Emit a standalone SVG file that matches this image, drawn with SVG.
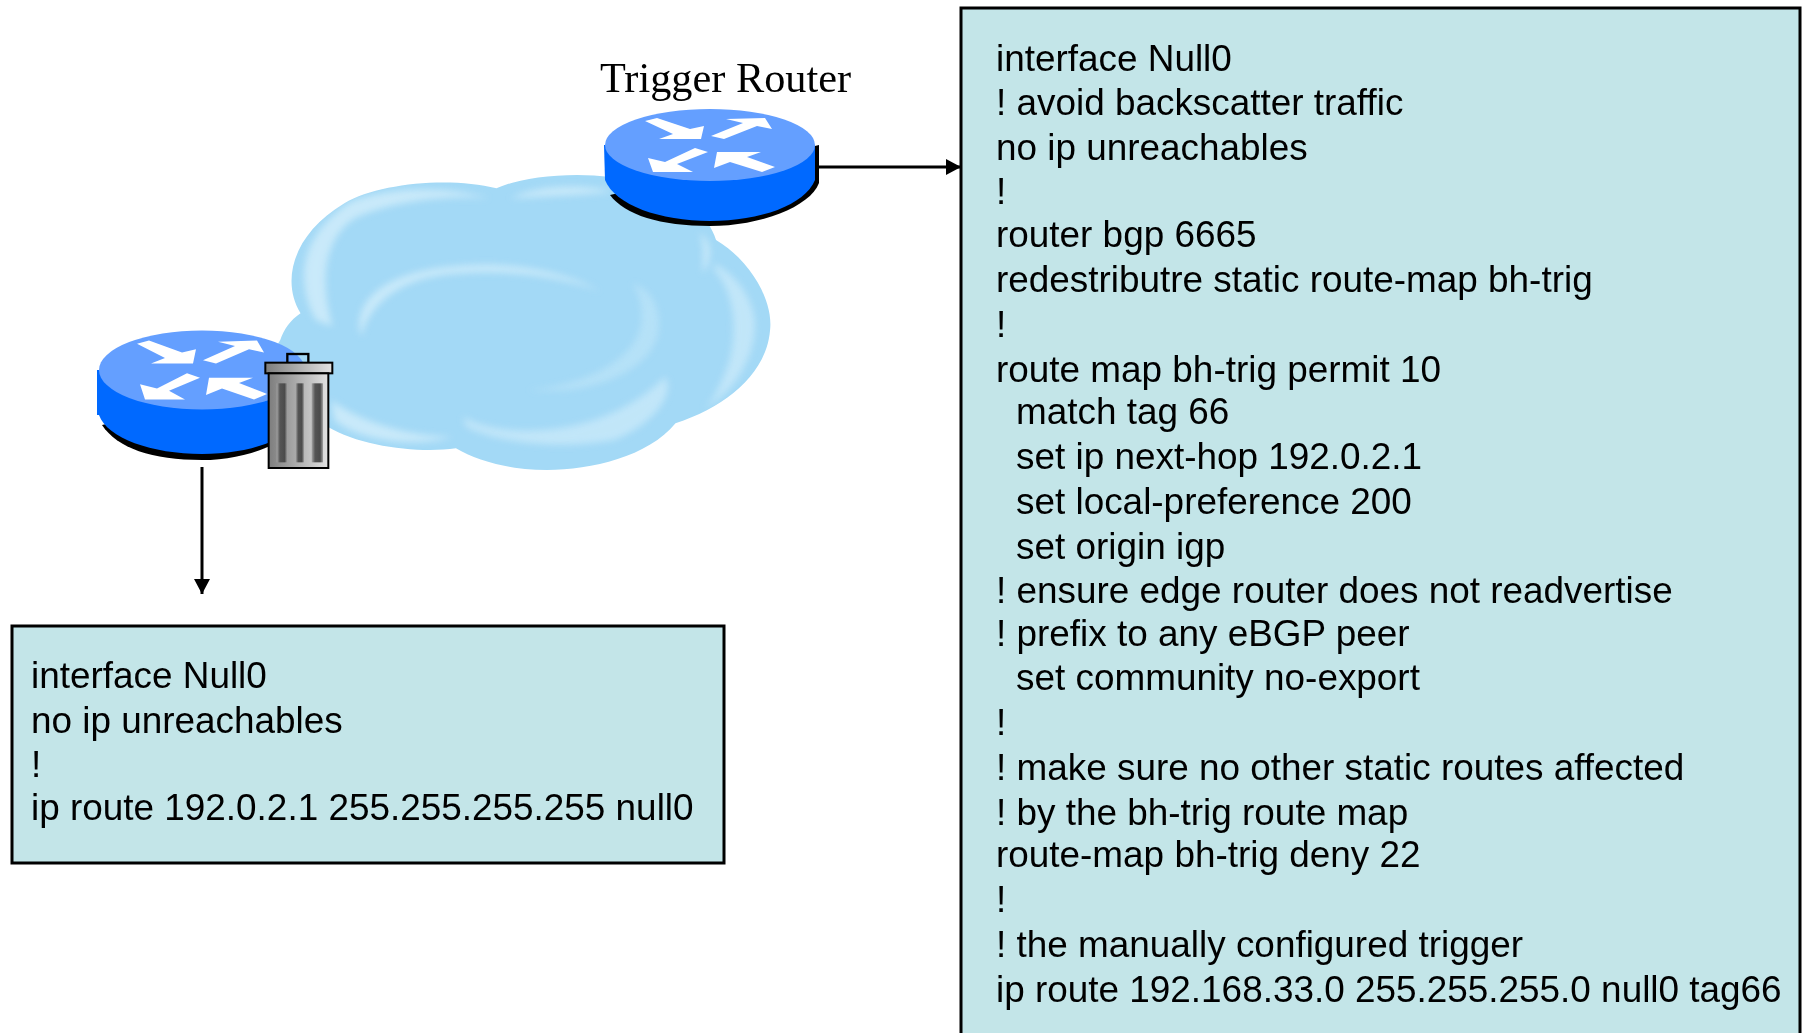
<svg xmlns="http://www.w3.org/2000/svg" width="1802" height="1033" viewBox="0 0 1802 1033">
<style>
.box{fill:#c3e5e8;stroke:#000;stroke-width:3}
.t{font-family:"Liberation Sans",Arial,sans-serif;font-size:36.9px;fill:#000}
.lbl{font-family:"Liberation Serif","Times New Roman",serif;font-size:42.3px;fill:#000}
.hl{fill:#d6effb}
.conn{stroke:#000;stroke-width:3;fill:none}
.ar{fill:#fff}
</style>
<defs>
<filter id="b6" x="-20%" y="-20%" width="140%" height="140%"><feGaussianBlur stdDeviation="11"/></filter>
<filter id="b1" x="-5%" y="-5%" width="110%" height="110%"><feGaussianBlur stdDeviation="2"/></filter>
<clipPath id="cc"><path d="M120 460C60 360 100 220 250 130C350 70 560 50 700 85C800 40 1000 30 1130 70C1250 100 1330 170 1350 240C1450 300 1520 420 1510 510C1500 640 1380 740 1230 790C1150 890 980 930 850 930C730 930 640 900 580 865C470 880 300 860 200 800C100 740 -10 650 60 540C70 510 90 480 120 460Z"/></clipPath>
<linearGradient id="g1"><stop offset="0" stop-color="#7d7d7d"/><stop offset="1" stop-color="#e2e2e2"/></linearGradient>
<linearGradient id="g2"><stop offset="0" stop-color="#a5a5a5"/><stop offset=".3" stop-color="#555"/><stop offset=".75" stop-color="#4b4b4b"/><stop offset="1" stop-color="#a0a0a0"/></linearGradient>
<marker id="ah" markerUnits="userSpaceOnUse" markerWidth="16" markerHeight="16" refX="15" refY="8" orient="auto"><path d="M0 0L15 8L0 16Z" fill="#000"/></marker>
<g id="routerArrows" class="ar">
<path d="M-65 -24L-53 -27L-20 -16L-6 -19L-9 -6L-51 -6L-37 -11Z"/>
<path d="M1 -9L33 -22L16 -26L55 -27L62 -16L47 -19L14 -6Z"/>
<path d="M-15 3L-2 7L-33 19L-17 27L-57 27L-62 13L-45 17Z"/>
<path d="M4 23L7 7L51 7L37 12L65 22L52 27L20 17Z"/>
</g>
</defs>

<g id="cloud" transform="translate(260 160) scale(.3378 .3333)">
<g filter="url(#b1)">
<path fill="#a3d9f6" d="M120 460C60 360 100 220 250 130C350 70 560 50 700 85C800 40 1000 30 1130 70C1250 100 1330 170 1350 240C1450 300 1520 420 1510 510C1500 640 1380 740 1230 790C1150 890 980 930 850 930C730 930 640 900 580 865C470 880 300 860 200 800C100 740 -10 650 60 540C70 510 90 480 120 460Z"/>
</g>
<g clip-path="url(#cc)"><g filter="url(#b6)" opacity=".75">
<path class="hl" d="M165 480C100 360 120 220 270 125C400 75 560 80 680 115C560 105 400 120 280 175C190 235 175 360 215 500Z"/>
<path class="hl" d="M740 115C820 75 950 70 1050 95C950 105 830 110 740 115Z"/>
<path class="hl" d="M300 530C270 440 350 340 560 320C720 300 900 330 1010 395C880 345 700 325 540 345C400 365 320 440 300 530Z"/>
<path class="hl" opacity=".5" d="M790 690C950 680 1130 600 1130 470C1130 430 1120 390 1100 370C1150 380 1190 440 1180 510C1170 620 1000 710 790 690Z"/>
<path class="hl" opacity=".8" d="M1345 330C1390 380 1420 480 1390 600C1370 660 1340 730 1310 750C1420 690 1470 570 1465 480C1455 400 1400 340 1345 310Z"/>
<path class="hl" d="M210 720C300 790 450 830 570 830C480 860 300 850 220 780Z"/>
<path class="hl" opacity=".8" d="M600 770C700 830 1000 850 1200 650C1230 700 1170 790 1050 840C900 870 700 850 610 800Z"/>
<path class="hl" d="M1300 220C1340 240 1340 300 1310 340C1310 300 1320 260 1300 220Z"/>
</g></g>
</g>

<g id="router-trigger" transform="translate(710 145)">
<path fill="#000" d="M109 0V38C100 62 50 81 0 81C-50 81 -85 70 -100 50Z"/>
<path fill="#0069ff" d="M-106 0H105V35C95 60 50 76 0 76C-50 76 -95 60 -105 35Z"/>
<ellipse rx="105" ry="36" fill="#649fff"/>
<use href="#routerArrows"/>
</g>

<g id="router-edge" transform="translate(202 370)">
<path fill="#000" d="M105 5V38C100 68 50 90 0 90C-50 90 -85 78 -100 55Z"/>
<path fill="#0069ff" d="M-105 0H105V40C95 68 50 84 0 84C-50 84 -95 68 -103 45L-105 45Z"/>
<ellipse rx="103" ry="39.5" fill="#649fff"/>
<use href="#routerArrows" transform="scale(1 1.09)"/>
</g>

<g id="trash" transform="translate(80 310) scale(.33333)">
<rect x="622" y="132" width="63" height="28" fill="none" stroke="#000" stroke-width="7"/>
<rect x="556" y="158" width="201" height="32" fill="url(#g1)" stroke="#000" stroke-width="6"/>
<rect x="566" y="190" width="179" height="284" fill="url(#g1)" stroke="#000" stroke-width="6"/>
<rect x="590" y="220" width="32" height="237" fill="url(#g2)"/>
<rect x="647" y="220" width="25" height="237" fill="url(#g2)"/>
<rect x="695" y="220" width="34" height="237" fill="url(#g2)"/>
</g>

<g id="connectors">
<line class="conn" x1="819" y1="167" x2="961" y2="167" marker-end="url(#ah)"/>
<line class="conn" x1="202" y1="467" x2="202" y2="594" marker-end="url(#ah)"/>
</g>

<g id="label-trigger"><text class="lbl" x="600" y="92">Trigger Router</text></g>

<g id="config-edge">
<rect class="box" x="12" y="626" width="712" height="237"/>
<text class="t" x="31" y="688">interface Null0</text>
<text class="t" x="31" y="733">no ip unreachables</text>
<text class="t" x="31" y="777">!</text>
<text class="t" x="31" y="820">ip route 192.0.2.1 255.255.255.255 null0</text>
</g>

<g id="config-trigger">
<rect class="box" x="961" y="8" width="839" height="1100"/>
<text class="t" x="996" y="71">interface Null0</text>
<text class="t" x="996" y="115">! avoid backscatter traffic</text>
<text class="t" x="996" y="160">no ip unreachables</text>
<text class="t" x="996" y="204">!</text>
<text class="t" x="996" y="247">router bgp 6665</text>
<text class="t" x="996" y="292">redestributre static route-map bh-trig</text>
<text class="t" x="996" y="337">!</text>
<text class="t" x="996" y="382">route map bh-trig permit 10</text>
<text class="t" x="1016" y="424">match tag 66</text>
<text class="t" x="1016" y="469">set ip next-hop 192.0.2.1</text>
<text class="t" x="1016" y="514">set local-preference 200</text>
<text class="t" x="1016" y="559">set origin igp</text>
<text class="t" x="996" y="603">! ensure edge router does not readvertise</text>
<text class="t" x="996" y="646">! prefix to any eBGP peer</text>
<text class="t" x="1016" y="690">set community no-export</text>
<text class="t" x="996" y="735">!</text>
<text class="t" x="996" y="780">! make sure no other static routes affected</text>
<text class="t" x="996" y="825">! by the bh-trig route map</text>
<text class="t" x="996" y="867">route-map bh-trig deny 22</text>
<text class="t" x="996" y="912">!</text>
<text class="t" x="996" y="957">! the manually configured trigger</text>
<text class="t" x="996" y="1002">ip route 192.168.33.0 255.255.255.0 null0 tag66</text>
</g>
</svg>
